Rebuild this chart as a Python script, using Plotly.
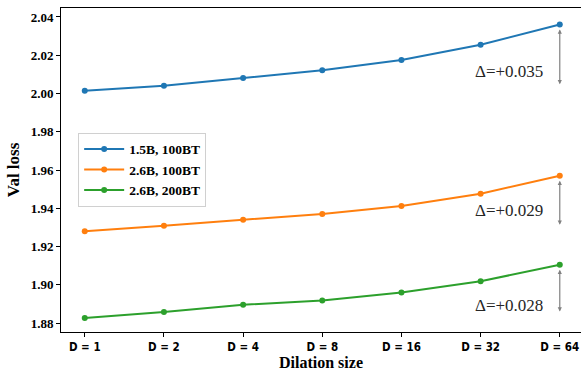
import plotly.graph_objects as go

dilation_labels = ["D = 1", "D = 2", "D = 4", "D = 8", "D = 16", "D = 32", "D = 64"]
series_names = ["1.5B, 100BT", "2.6B, 100BT", "2.6B, 200BT"]
loss_15b_100bt = [2.0014, 2.0040, 2.0081, 2.0122, 2.0175, 2.0255, 2.0361]
loss_26b_100bt = [1.9280, 1.9308, 1.9340, 1.9370, 1.9412, 1.9476, 1.9570]
loss_26b_200bt = [1.8826, 1.8857, 1.8895, 1.8918, 1.8960, 1.9018, 1.9105]
delta_labels = ["Δ=+0.035", "Δ=+0.029", "Δ=+0.028"]
y_tick_vals = [1.88, 1.90, 1.92, 1.94, 1.96, 1.98, 2.00, 2.02, 2.04]

colors = ["#1f77b4", "#ff7f0e", "#2ca02c"]
all_series = [loss_15b_100bt, loss_26b_100bt, loss_26b_200bt]
xs = list(range(len(dilation_labels)))

fig = go.Figure()
for name, vals, c in zip(series_names, all_series, colors):
    fig.add_trace(go.Scatter(
        x=xs, y=vals, mode="lines+markers", name=name,
        line=dict(color=c, width=2), marker=dict(color=c, size=6),
    ))

serif = "Liberation Serif, Times New Roman, serif"
last = xs[-1]
text_yshift = [-14, -7, -14]
for vals, lab, ys in zip(all_series, delta_labels, text_yshift):
    fig.add_annotation(
        x=last, y=vals[-1], ax=last, ay=vals[0], xref="x", yref="y",
        axref="x", ayref="y", text="", showarrow=True,
        arrowhead=2, startarrowhead=2, arrowside="end+start",
        arrowsize=0.7, arrowwidth=1.2, arrowcolor="#808080",
        standoff=5, startstandoff=5,
    )
    fig.add_annotation(
        x=last - 0.19, y=(vals[0] + vals[-1]) / 2, xref="x", yref="y",
        text=lab, showarrow=False, xanchor="right", yanchor="middle",
        yshift=ys, font=dict(family=serif, size=17, color="#262626"),
    )

fig.update_layout(
    width=581, height=371,
    margin=dict(l=61, r=0, t=8, b=39),
    paper_bgcolor="white", plot_bgcolor="white",
    font=dict(family=serif, color="black"),
    legend=dict(
        x=0.033, y=0.615, xanchor="left", yanchor="top",
        bgcolor="white", bordercolor="#d0d0d0", borderwidth=1,
        font=dict(family=serif, size=13.5, weight="bold"),
        tracegroupgap=0, itemwidth=40,
    ),
    showlegend=True,
)
fig.update_xaxes(
    range=[-0.3, 6.268], tickvals=xs, ticktext=dilation_labels,
    showline=True, linecolor="black", linewidth=1, mirror=True,
    ticks="outside", ticklen=4, tickcolor="black", showgrid=False, zeroline=False,
    ticklabeloverflow="allow",
    tickfont=dict(family="DejaVu Sans Condensed, DejaVu Sans", size=11.5, weight="bold"),
    title=dict(text="<b>Dilation size</b>", font=dict(family=serif, size=16), standoff=2),
)
fig.update_yaxes(
    range=[1.8753, 2.0447], tickvals=y_tick_vals, tickformat=".2f",
    showline=True, linecolor="black", linewidth=1, mirror=False,
    ticks="outside", ticklen=4, tickcolor="black", showgrid=False, zeroline=False,
    tickfont=dict(family=serif, size=13, weight="bold"),
    title=dict(text="<b>Val loss</b>", font=dict(family=serif, size=17), standoff=6),
)

fig.write_html("out.html")
